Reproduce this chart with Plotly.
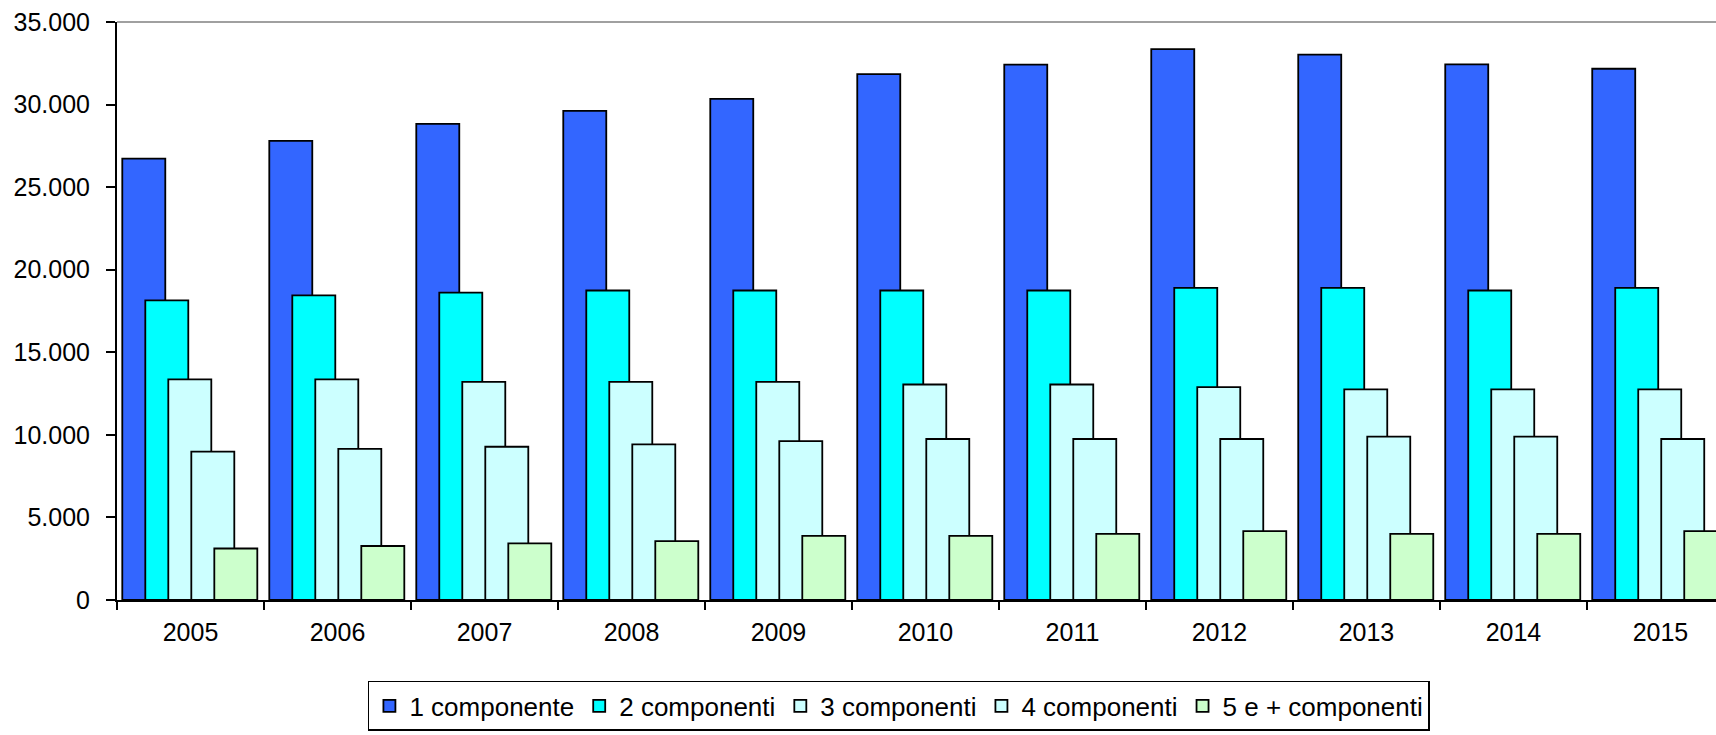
import plotly.graph_objects as go

years = ["2005", "2006", "2007", "2008", "2009", "2010", "2011", "2012", "2013", "2014", "2015"]
series_names = ["1 componente", "2 componenti", "3 componenti", "4 componenti", "5 e + componenti"]
comp1 = [26730, 27800, 28830, 29620, 30340, 31840, 32420, 33360, 33030, 32440, 32170]
comp2 = [18140, 18450, 18610, 18740, 18740, 18740, 18740, 18900, 18900, 18740, 18900]
comp3 = [13360, 13360, 13210, 13210, 13210, 13050, 13050, 12890, 12760, 12760, 12760]
comp4 = [8990, 9150, 9280, 9420, 9620, 9750, 9750, 9750, 9890, 9890, 9750]
comp5 = [3120, 3270, 3430, 3570, 3880, 3880, 4010, 4170, 4010, 4010, 4170]
colors = ["#3366FF", "#00FFFF", "#CCFFFF", "#CCFFFF", "#CCFFCC"]

all_series = [comp1, comp2, comp3, comp4, comp5]
FONT = "Liberation Sans, Arial, sans-serif"

fig = go.Figure()
for i, (name, vals, col) in enumerate(zip(series_names, all_series, colors)):
    fig.add_trace(go.Bar(
        x=years, y=vals, name=name,
        marker=dict(color=col, line=dict(color="#000000", width=1.8)),
        width=0.2925, offset=-0.464 + 0.1565 * i,
    ))

fig.update_layout(
    width=1716, height=735,
    barmode="overlay",
    separators=",.",
    plot_bgcolor="white", paper_bgcolor="white",
    margin=dict(l=117, r=0, t=22, b=135),
    font=dict(family=FONT, color="#000000"),
    showlegend=True,
    legend=dict(orientation="h", x=0.489, xanchor="center", y=-0.14, yanchor="top",
                bordercolor="#000000", borderwidth=1.5, font=dict(size=26, family=FONT),
                traceorder="normal", itemwidth=30),
    shapes=[dict(type="line", xref="paper", yref="paper", x0=0, x1=1, y0=1, y1=1,
                 line=dict(color="#808080", width=1.5))],
)
fig.update_xaxes(
    type="category", range=[-0.5, 10.378],
    tickson="boundaries", ticks="outside", ticklen=8, tickcolor="#000000", tickwidth=2,
    showline=True, linecolor="#000000", linewidth=2, showgrid=False, zeroline=False,
    tickfont=dict(size=25, family=FONT), ticklabelstandoff=9, automargin=False,
)
fig.update_yaxes(
    range=[0, 35000], dtick=5000, tickformat=",d",
    ticks="outside", ticklen=9, tickcolor="#000000", tickwidth=2,
    showline=True, linecolor="#000000", linewidth=2, showgrid=False, zeroline=False,
    tickfont=dict(size=25, family=FONT), ticklabelstandoff=11, automargin=False,
)

fig.write_html("out.html", config={"displayModeBar": False},
               post_script="document.body.style.margin='0';document.body.style.overflow='hidden';")
